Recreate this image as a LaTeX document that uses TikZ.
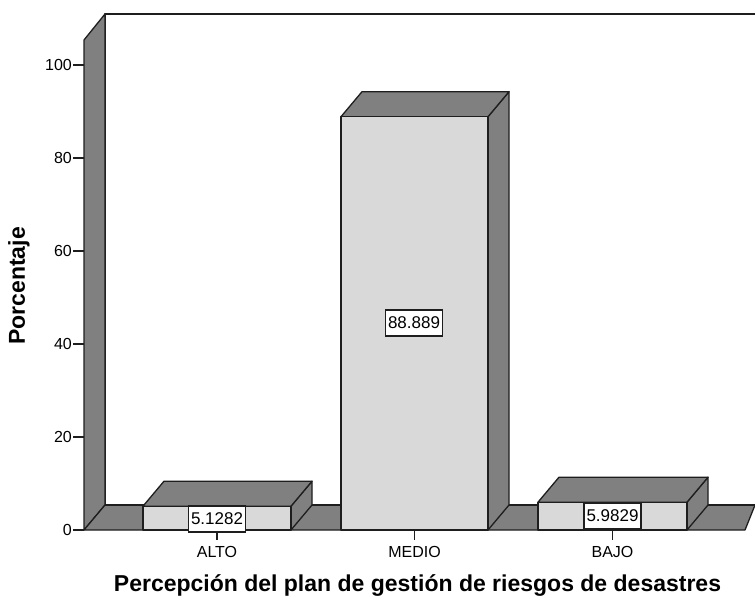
\documentclass[tikz,border=0pt]{standalone}
\usepackage{fontspec}
\setmainfont{Liberation Sans}
\definecolor{darkface}{RGB}{128,128,128}
\definecolor{lightface}{RGB}{217,217,217}
\definecolor{edgecol}{RGB}{30,30,30}
\newcommand\mybar[3]{%
  \filldraw[darkside] (#2,#3) -- ++(21,-25) -- ++(0,{530-#3}) -- (#2,530) -- cycle;
  \filldraw[darkside] (#1,#3) -- ++(21,-25) -- ++({#2-#1},0) -- (#2,#3) -- cycle;
  \filldraw[lightside] (#1,#3) rectangle (#2,530);
}
\begin{document}
\begin{tikzpicture}[x=1pt,y=-1pt,
  edge/.style={draw=edgecol, line width=1.3pt, line join=round},
  darkside/.style={edge, fill=darkface},
  lightside/.style={edge, fill=lightface},
  small/.style={font=\fontsize{16}{18}\selectfont, inner sep=0pt},
  valbox/.style={draw=edgecol, fill=white, line width=1.2pt, font=\fontsize{17}{19}\selectfont,
     minimum width=57pt, minimum height=26pt, inner sep=1pt},
  big/.style={font=\fontsize{23}{26}\selectfont\bfseries, inner sep=0pt},
  tick/.style={draw=edgecol, line width=1.2pt}]
\useasboundingbox (0,0) rectangle (755,601);
% back wall
\fill[white] (105,14) rectangle (755,505);
\draw[edge] (105,505) -- (105,14) -- (755,14);
% left side wall
\filldraw[darkside] (84,530) -- (84,40) -- (105,14) -- (105,505) -- cycle;
% floor
\fill[darkface] (84,530) -- (105,505) -- (755,505) -- (745,530) -- cycle;
\draw[edge] (105,505) -- (755,505);
\draw[edge] (755,505) -- (745,530) -- (84,530) -- (105,505);
% y ticks
\foreach \v in {0,20,40,60,80,100} {
  \pgfmathsetmacro\yy{530-4.65*\v}
  \draw[tick] (73,\yy) -- (84,\yy);
  \node[small, anchor=east] (t\v) at (72,\yy) {\v};
}
% bars
\mybar{143}{291}{506.2}
\mybar{341}{488}{116.7}
\mybar{538}{687}{502.2}
% category ticks and labels
\draw[tick] (217,530) -- (217,540);
\draw[tick] (414.5,530) -- (414.5,540);
\draw[tick] (612.5,530) -- (612.5,540);
\node[small] (cA) at (217,552) {ALTO};
\node[small] (cM) at (414.5,552) {MEDIO};
\node[small] (cB) at (612.5,552) {BAJO};
% value labels
\node[valbox] (vA) at (217,519) {5.1282};
\node[valbox] (vM) at (414,323) {88.889};
\node[valbox] (vB) at (612.5,516) {5.9829};
% axis titles
\node[big] (xt) at (417.5,586) {Percepción del plan de gestión de riesgos de desastres};
\node[big, rotate=90] (yt) at (19,286) {Porcentaje};
\end{tikzpicture}
\end{document}
